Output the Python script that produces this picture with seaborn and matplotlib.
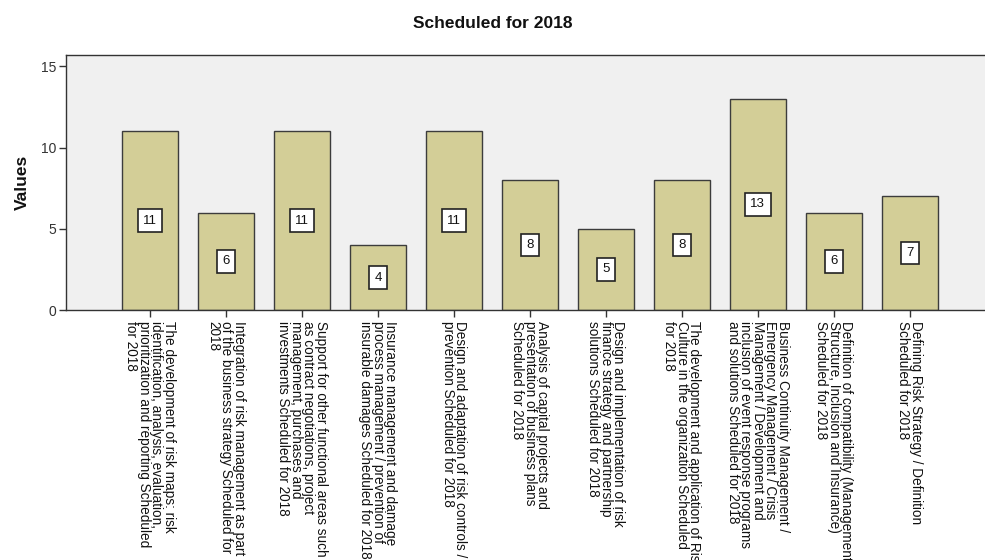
import matplotlib
matplotlib.use("Agg")
import matplotlib.pyplot as plt
import seaborn as sns
import pandas as pd

# Activity categories (wrapped as they appear on the axis)
categories = [
    "The development of risk maps: risk\nidentification, analysis, evaluation,\nprioritization and reporting Scheduled\nfor 2018",
    "Integration of risk management as part\nof the business strategy Scheduled for\n2018",
    "Support for other functional areas such\nas contract negotiations, project\nmanagement, purchases and\ninvestments Scheduled for 2018",
    "Insurance management and damage\nprocess management / prevention of\ninsurable damages Scheduled for 2018",
    "Design and adaptation of risk controls /\nprevention Scheduled for 2018",
    "Analysis of capital projects and\npresentation of business plans\nScheduled for 2018",
    "Design and implementation of risk\nfinance strategy and partnership\nsolutions Scheduled for 2018",
    "The development and application of Risk\nCulture in the organization Scheduled\nfor 2018",
    "Business Continuity Management /\nEmergency Management / Crisis\nManagement / Development and\ninclusion of event response programs\nand solutions Scheduled for 2018",
    "Definition of compatibility (Management,\nStructure, Inclusion and Insurance)\nScheduled for 2018",
    "Defining Risk Strategy / Definition\nScheduled for 2018",
]
values = [11, 6, 11, 4, 11, 8, 5, 8, 13, 6, 7]
y_ticks = [0, 5, 10, 15]

sns.set_theme(style="white")
plt.rcParams["font.family"] = ["Liberation Sans", "DejaVu Sans"]

df = pd.DataFrame({"category": categories, "value": values})

fig = plt.figure(figsize=(9.85, 5.6), dpi=100)
W, H = 985, 560
left, right, top, bottom = 66, 985, 55, 310
ax = fig.add_axes([left / W, 1 - bottom / H, (right - left) / W, (bottom - top) / H])
ax.set_facecolor("#F0F0F0")

sns.barplot(data=df, x="category", y="value", color="#D3CE97", saturation=1,
            edgecolor="#3C3C3C", linewidth=1.0, width=0.74, ax=ax)

# value labels in white boxes at mid-height of each bar
for i, v in enumerate(values):
    ax.text(i, v / 2, str(v), ha="center", va="center", fontsize=9.5, color="#111111",
            bbox=dict(boxstyle="square,pad=0.4", facecolor="white", edgecolor="#222222", linewidth=1.2))

ax.set_xlim(-1.105, len(values) - 1 + 0.99)
ax.set_ylim(0, 15.7)
ax.set_yticks(y_ticks)
ax.set_yticklabels([str(t) for t in y_ticks], fontsize=10, color="#333333")

ax.set_xticks(range(len(categories)))
ax.set_xticklabels(categories, rotation=270, ha="center", va="top",
                   multialignment="left", fontsize=9.8, color="#111111",
                   linespacing=0.87)

ax.tick_params(axis="both", which="both", direction="out", length=5, width=1,
               color="#333333", bottom=True, left=True, pad=2)
ax.tick_params(axis="x", pad=3)

for s in ["left", "top", "bottom"]:
    ax.spines[s].set_visible(True)
    ax.spines[s].set_color("#333333")
    ax.spines[s].set_linewidth(1.0)
ax.spines["right"].set_visible(False)

ax.set_xlabel("")
ax.set_ylabel("Values", fontsize=12.5, fontweight="bold", color="#111111")
ax.yaxis.set_label_coords(-36 / (right - left), 0.5)

fig.text(493 / W, 1 - 23 / H, "Scheduled for 2018", ha="center", va="center",
         fontsize=12.5, fontweight="bold", color="#111111")

fig.savefig("out.png", dpi=100, facecolor="white")
